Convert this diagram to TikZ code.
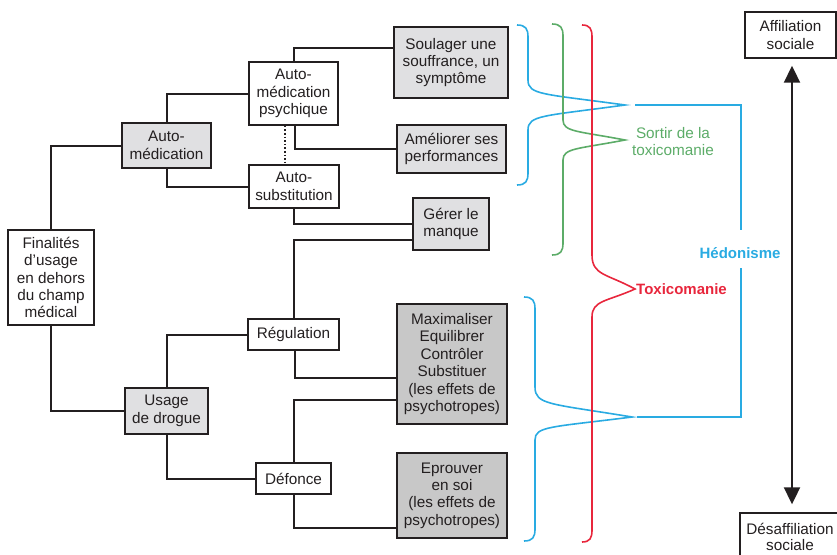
\documentclass[tikz,border=0pt]{standalone}
\usepackage{fontspec}
\setmainfont{Liberation Sans}
\usetikzlibrary{arrows.meta}
\definecolor{cblue}{RGB}{41,171,226}
\definecolor{cgreen}{RGB}{92,172,104}
\definecolor{cred}{RGB}{232,38,60}
\definecolor{lgray}{RGB}{224,224,226}
\definecolor{dgray}{RGB}{200,200,200}
\definecolor{ink}{RGB}{35,31,32}
% brace: colour, end x, vertical x, top y, bottom y, tip x, tip y, upper d, lower d
\newcommand\brc[9]{%
  \draw[#1] (#2,#4) .. controls ({#2+0.8*(#3-#2)},#4) and (#3,{#4+4}) .. (#3,{#4+12})
    -- (#3,{#7-#8}) .. controls (#3,{#7-0.4*#8}) and ({#3+15},{#7-0.45*#8}) .. (#6,#7)
    .. controls ({#3+15},{#7+0.45*#9}) and (#3,{#7+0.4*#9}) .. (#3,{#7+#9})
    -- (#3,{#5-12}) .. controls (#3,{#5-4}) and ({#2+0.8*(#3-#2)},#5) .. (#2,#5);}
\begin{document}
\begin{tikzpicture}[x=1pt,y=-1pt,
  box/.style={draw=ink,line width=1.4pt,align=center,inner sep=0pt,text=ink,
    font=\fontsize{15.3}{17.4}\selectfont},
  wbox/.style={box,fill=white},
  lbox/.style={box,fill=lgray},
  dbox/.style={box,fill=dgray},
  conn/.style={draw=ink,line width=2pt},
  brace/.style={line width=1.6pt}]
\useasboundingbox (0,0) rectangle (837,554);
\clip (0,0) rectangle (837,554);
% nodes
\node[wbox,minimum width=86pt,minimum height=95pt] (fin) at (51,277.5) {Finalités\\d’usage\\en dehors\\du champ\\médical};
\node[lbox,minimum width=89pt,minimum height=45pt] (am) at (166.5,145.5) {Auto-\\médication};
\node[lbox,minimum width=83pt,minimum height=46pt] (ud) at (166.5,411) {Usage\\de drogue};
\node[wbox,minimum width=89pt,minimum height=63pt] (amp) at (293.5,93.5) {Auto-\\médication\\psychique};
\node[wbox,minimum width=90pt,minimum height=43pt] (as) at (294,186.5) {Auto-\\substitution};
\node[wbox,minimum width=91pt,minimum height=31pt] (reg) at (293.5,334.5) {Régulation};
\node[wbox,minimum width=75pt,minimum height=31pt] (def) at (293.5,478.5) {Défonce};
\node[lbox,minimum width=114pt,minimum height=71pt] (soul) at (451,62.5) {Soulager une\\souffrance, un\\symptôme};
\node[lbox,minimum width=109pt,minimum height=48pt] (amel) at (451.5,149) {Améliorer ses\\performances};
\node[lbox,minimum width=76pt,minimum height=52pt] (ger) at (451,224) {Gérer le\\manque};
\node[dbox,minimum width=110pt,minimum height=120pt] (max) at (452,364) {Maximaliser\\Equilibrer\\Contrôler\\Substituer\\(les effets de\\psychotropes)};
\node[dbox,minimum width=110pt,minimum height=85pt] (epr) at (452,495.5) {Eprouver\\en soi\\(les effets de\\psychotropes)};
\node[wbox,minimum width=91pt,minimum height=46pt] (aff) at (790.5,35) {Affiliation\\sociale};
\node[wbox,minimum width=100pt,minimum height=48pt,font=\fontsize{15.3}{16}\selectfont] (des) at (790,537) {Désaffiliation\\sociale};
% connectors
\draw[conn] (fin.north) |- (am.west);
\draw[conn] (fin.south) |- (ud.west);
\draw[conn] (am.north) |- (amp.west);
\draw[conn] (am.south) |- (as.west);
\draw[conn] (ud.north) |- (reg.west);
\draw[conn] (ud.south) |- (def.west);
\draw[conn] (amp.north) |- ([yshift=14.5pt]soul.west);
\draw[conn] ([xshift=1.5pt]amp.south) |- (amel.west);
\draw[ink,line width=1.6pt,dotted] ([xshift=-8.5pt]amp.south) -- ([xshift=-9pt]as.north);
\draw[conn] (as.south) |- (ger.west);
\draw[conn] ([yshift=-16pt]ger.west) -| (reg.north);
\draw[conn] ([xshift=1.5pt]reg.south) |- ([yshift=-14pt]max.west);
\draw[conn] ([yshift=-36pt]max.west) -| (def.north);
\draw[conn] (def.south) |- ([yshift=-32.5pt]epr.west);
\draw[ink,line width=2pt,{Triangle[width=16pt,length=17pt]}-{Triangle[width=16pt,length=17pt]}]
  ([xshift=1.5pt,yshift=-7pt]aff.south) -- ([xshift=1.5pt,yshift=8pt]aff.south |- des.north);
% braces
\brc{brace,cblue}{517}{528}{25}{185}{625}{105}{25}{25}
\brc{brace,cblue}{524}{535}{297}{541}{632}{417}{30}{23}
\brc{brace,cgreen}{552}{563}{24}{255}{625}{140}{20}{20}
\brc{brace,cred}{582}{592}{25}{542}{635}{289}{34}{28}
% labels
\node[text=cblue,font=\fontsize{15}{17}\selectfont\bfseries] (hed) at (740,253) {Hédonisme};
\node[text=cgreen,align=center,inner sep=0pt,font=\fontsize{15.3}{17.4}\selectfont] (sor) at (673,141.5) {Sortir de la\\toxicomanie};
\node[text=cred,anchor=west,inner sep=0pt,font=\fontsize{15}{17}\selectfont\bfseries] (tox) at (636,289) {Toxicomanie};
\coordinate (b1) at (635,105);
\coordinate (b2) at (637,417);
\draw[cblue,line width=1.6pt] (b1) -| ([xshift=1pt,yshift=23pt]hed.center);
\draw[cblue,line width=1.6pt] (b2) -| ([xshift=1pt,yshift=-15pt]hed.center);
\end{tikzpicture}
\end{document}
